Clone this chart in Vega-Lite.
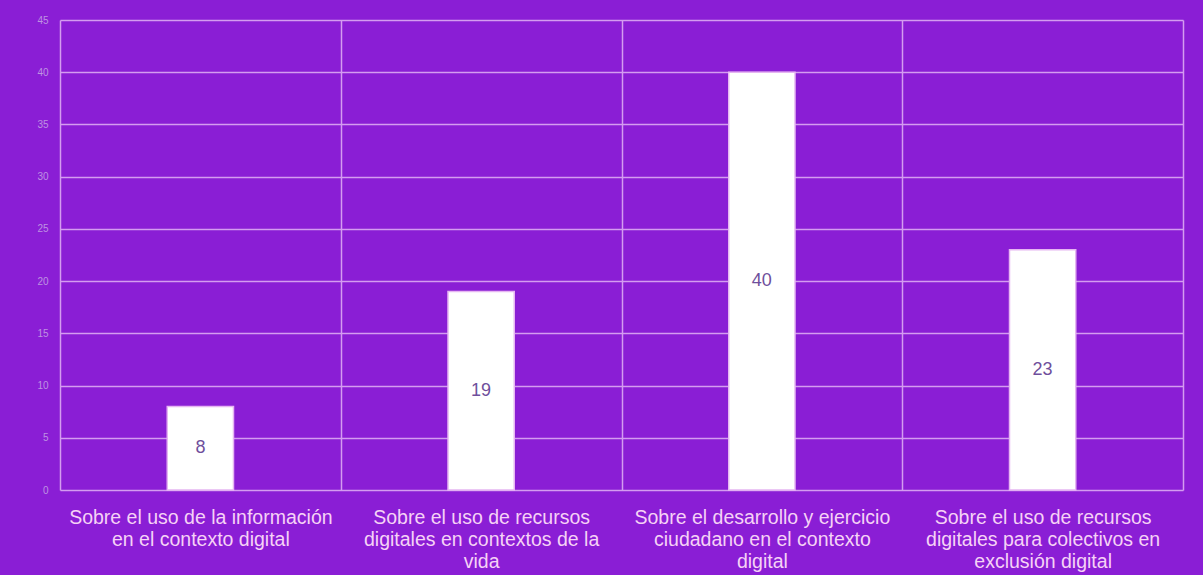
{
  "$schema": "https://vega.github.io/schema/vega-lite/v6.json",
  "width": 1123,
  "height": 470,
  "autosize": {"type": "none"},
  "padding": {"left": 60, "top": 20, "right": 20, "bottom": 85},
  "background": "#8a1ed5",
  "config": {
    "view": {"stroke": null},
    "font": "Liberation Sans"
  },
  "data": {
    "values": [
      {"categoria": "Sobre el uso de la información|en el contexto digital", "valor": 8},
      {"categoria": "Sobre el uso de recursos|digitales en contextos de la|vida", "valor": 19},
      {"categoria": "Sobre el desarrollo y ejercicio|ciudadano en el contexto|digital", "valor": 40},
      {"categoria": "Sobre el uso de recursos|digitales para colectivos en|exclusión digital", "valor": 23}
    ]
  },
  "encoding": {
    "x": {
      "field": "categoria",
      "type": "nominal",
      "sort": null,
      "scale": {"paddingInner": 0, "paddingOuter": 0},
      "axis": {
        "title": null,
        "labelAngle": 0,
        "labelExpr": "datum.value ? split(datum.value, '|') : ''",
        "labelFontSize": 19.5,
        "labelLineHeight": 22,
        "labelLimit": 0,
        "labelColor": "#f6d2f6",
        "labelPadding": 18,
        "labelFont": "Liberation Sans",
        "domain": false,
        "ticks": false,
        "grid": true,
        "tickBand": "extent",
        "gridColor": "#d49cf0",
        "gridWidth": 1.5,
        "gridOpacity": 1
      }
    }
  },
  "layer": [
    {
      "mark": {"type": "bar", "width": {"band": 0.236}, "color": "#ffffff", "stroke": "#e6b6f2", "strokeWidth": 1.5},
      "encoding": {
        "y": {
          "field": "valor",
          "type": "quantitative",
          "scale": {"domain": [0, 45], "nice": false},
          "axis": {
            "title": null,
            "values": [0, 5, 10, 15, 20, 25, 30, 35, 40, 45],
            "labelFontSize": 10,
            "labelColor": "#be92e2",
            "labelPadding": 12,
            "domain": false,
            "ticks": false,
            "grid": true,
            "gridColor": "#d49cf0",
            "gridWidth": 1.5,
            "gridOpacity": 1
          }
        }
      }
    },
    {
      "mark": {"type": "text", "fontSize": 18, "color": "#6f4f9c", "baseline": "middle", "align": "center", "y": {"expr": "scale('y', datum.valor / 2)"}},
      "encoding": {
        "text": {"field": "valor", "type": "quantitative"}
      }
    }
  ]
}
